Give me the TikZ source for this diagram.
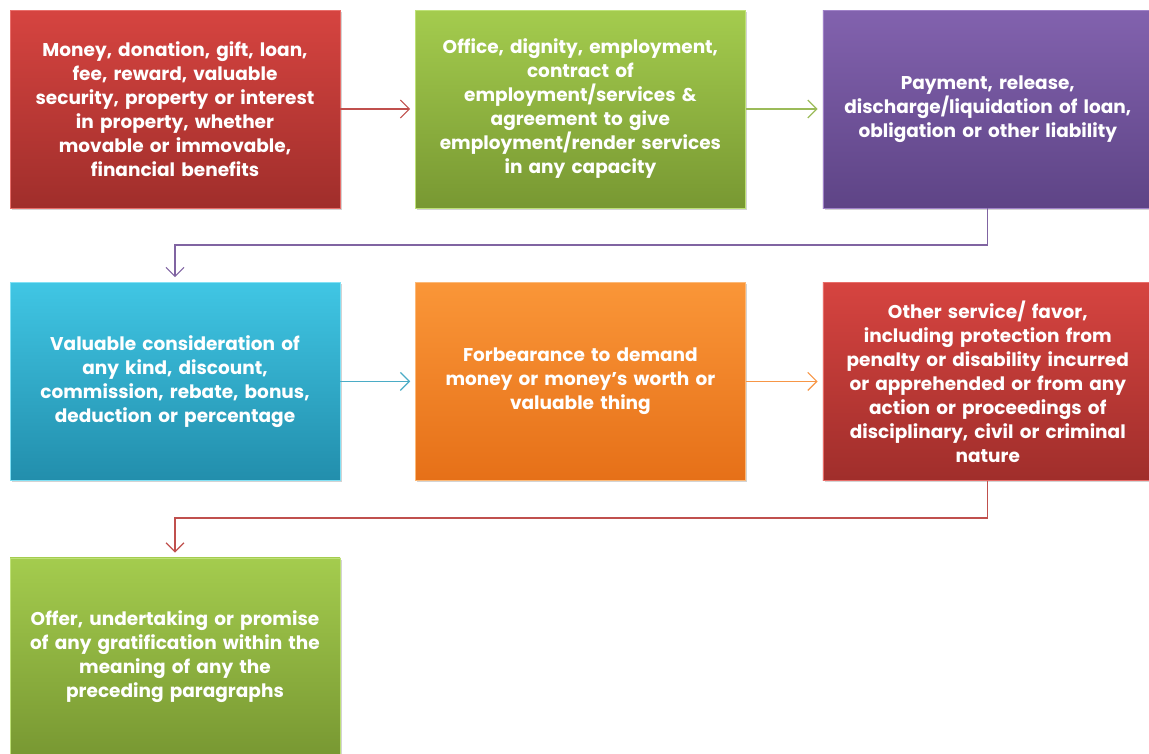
\documentclass[tikz,border=0pt]{standalone}
\usepackage{fontspec}
\setmainfont{Poppins}
\usepackage{xcolor}
\usetikzlibrary{positioning,calc,shadows,arrows.meta}
\definecolor{offred}{HTML}{C0504D}
\definecolor{offgreen}{HTML}{9BBB59}
\definecolor{offpurple}{HTML}{8064A2}
\definecolor{offaqua}{HTML}{4BACC6}
\definecolor{offorange}{HTML}{F79646}

\begin{document}
\begin{tikzpicture}[x=1pt, y=-1pt,
  box/.style={rectangle, minimum width=330pt, minimum height=198pt, text width=318pt, align=center, text=white, font=\bfseries\fontsize{18.5}{24}\selectfont, drop shadow={opacity=0.35, shadow xshift=2pt, shadow yshift=-2pt}},
  redbox/.style={box, top color={rgb,255:red,214;green,68;blue,64}, bottom color={rgb,255:red,160;green,46;blue,43}, draw={rgb,255:red,232;green,110;blue,106}},
  greenbox/.style={box, top color={rgb,255:red,164;green,204;blue,78}, bottom color={rgb,255:red,120;green,152;blue,50}, draw={rgb,255:red,190;green,225;blue,120}},
  purplebox/.style={box, top color={rgb,255:red,130;green,98;blue,174}, bottom color={rgb,255:red,94;green,68;blue,134}, draw={rgb,255:red,160;green,130;blue,200}},
  aquabox/.style={box, top color={rgb,255:red,64;green,198;blue,228}, bottom color={rgb,255:red,34;green,142;blue,172}, draw={rgb,255:red,130;green,225;blue,245}},
  orangebox/.style={box, top color={rgb,255:red,250;green,150;blue,56}, bottom color={rgb,255:red,230;green,112;blue,24}, draw={rgb,255:red,252;green,185;blue,120}},
  link/.style={line width=1.2pt, shorten >=5pt},
  >={Straight Barb[length=9pt, width=18pt, line width=1.2pt]}]
  \useasboundingbox (0,0) rectangle (1149,753);

  \node[redbox] (money) at (175,109) {Money, donation, gift, loan,\\ fee, reward, valuable\\ security, property or interest\\ in property, whether\\ movable or immovable,\\ financial benefits};
  \node[greenbox, right=75pt of money] (office) {Office, dignity, employment,\\ contract of\\ employment/services \&\\ agreement to give\\ employment/render services\\ in any capacity};
  \node[purplebox, right=77pt of office] (payment) {Payment, release,\\ discharge/liquidation of loan,\\ obligation or other liability};
  \node[aquabox, below=74pt of money] (valuable) {Valuable consideration of\\ any kind, discount,\\ commission, rebate, bonus,\\ deduction or percentage};
  \node[orangebox, right=75pt of valuable] (forbear) {Forbearance to demand\\ money or money’s worth or\\ valuable thing};
  \node[redbox, right=77pt of forbear] (service) {Other service/ favor,\\ including protection from\\ penalty or disability incurred\\ or apprehended or from any\\ action or proceedings of\\ disciplinary, civil or criminal\\ nature};
  \node[greenbox, below=77pt of valuable] (offer) {Offer, undertaking or promise\\ of any gratification within the\\ meaning of any the\\ preceding paragraphs};

  \coordinate (bendA) at (175,245);
  \coordinate (bendB) at (175,518);

  \draw[link, ->, offred] (money) -- (office);
  \draw[link, ->, offgreen] (office) -- (payment);
  \draw[link, ->, offpurple] (payment.south) |- (bendA) -- (valuable.north);
  \draw[link, ->, offaqua] (valuable) -- (forbear);
  \draw[link, ->, offorange] (forbear) -- (service);
  \draw[link, ->, offred] (service.south) |- (bendB) -- (offer.north);
\end{tikzpicture}
\end{document}
